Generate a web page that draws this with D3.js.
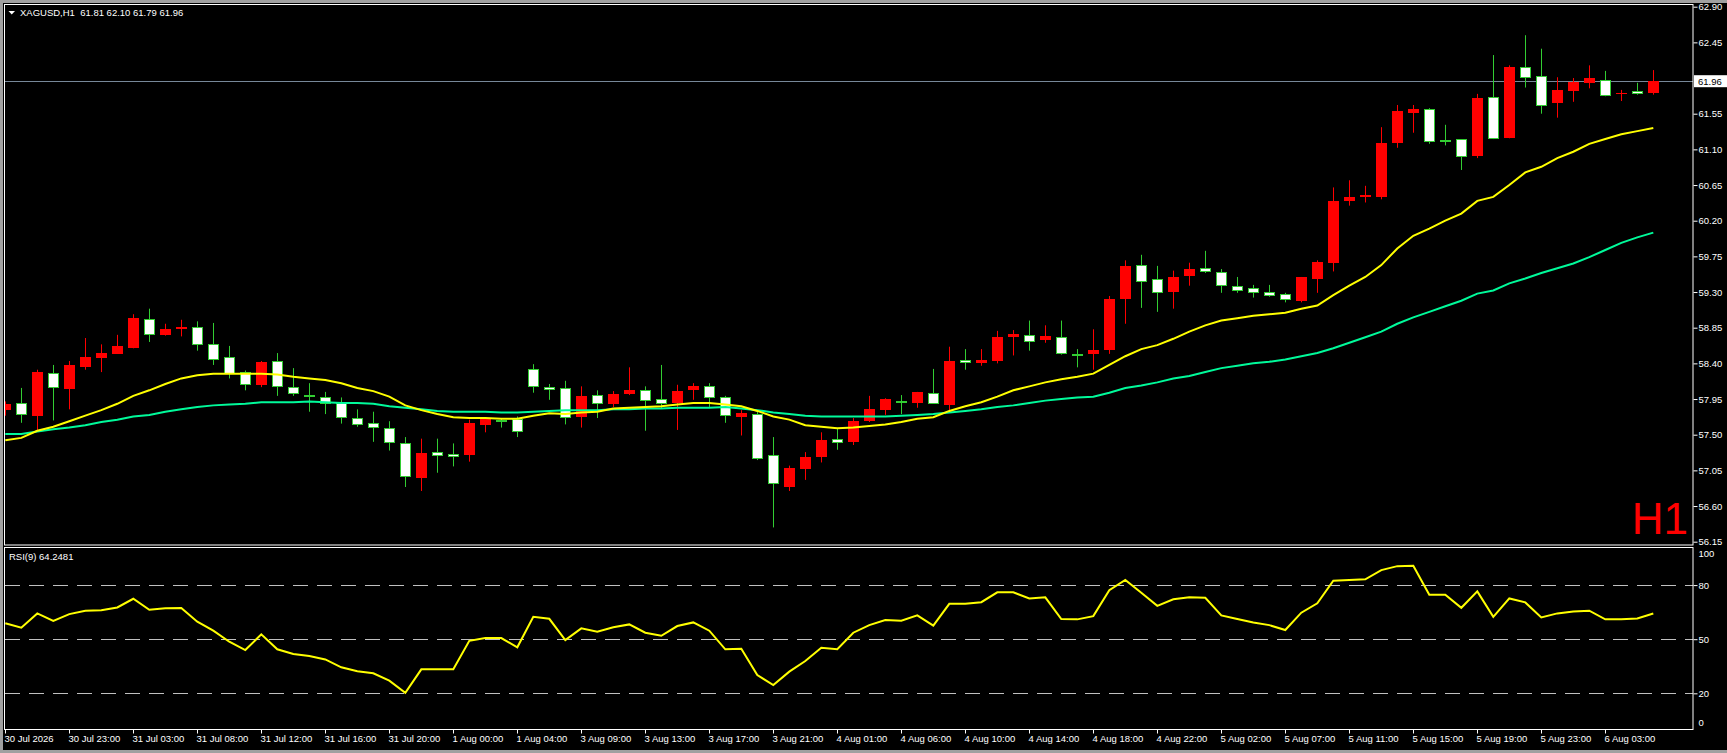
<!DOCTYPE html>
<html>
<head>
<meta charset="utf-8">
<script src="https://cdn.jsdelivr.net/npm/d3@7"></script>
<style>
body { margin: 0; background: #000; }
svg { display: block; }
</style>
</head>
<body>
<div class="chart"></div>
<script>
// bar-by-bar data (104 bars)
const timeLabels = ['30 Jul 2026', '30 Jul 23:00', '31 Jul 03:00', '31 Jul 08:00', '31 Jul 12:00', '31 Jul 16:00',
  '31 Jul 20:00', '1 Aug 00:00', '1 Aug 04:00', '3 Aug 09:00', '3 Aug 13:00', '3 Aug 17:00', '3 Aug 21:00',
  '4 Aug 01:00', '4 Aug 06:00', '4 Aug 10:00', '4 Aug 14:00', '4 Aug 18:00', '4 Aug 22:00', '5 Aug 02:00',
  '5 Aug 07:00', '5 Aug 11:00', '5 Aug 15:00', '5 Aug 19:00', '5 Aug 23:00', '6 Aug 03:00'];

const opens = [57.81, 57.90, 57.74, 58.28, 58.08, 58.36, 58.47, 58.52, 58.59, 58.96, 58.75, 58.84, 58.86, 58.65, 58.48, 58.29,
  58.13, 58.43, 58.10, 58.00, 57.98, 57.90, 57.71, 57.65, 57.58, 57.39, 56.96, 57.28, 57.26, 57.24, 57.62, 57.69,
  57.70, 58.33, 58.10, 58.09, 57.72, 58.00, 57.89, 58.02, 58.07, 57.95, 57.90, 58.06, 58.12, 57.97, 57.72, 57.76,
  57.24, 56.84, 57.07, 57.21, 57.44, 57.41, 57.68, 57.81, 57.93, 57.90, 58.02, 57.87, 58.44, 58.40, 58.43, 58.73,
  58.76, 58.70, 58.73, 58.52, 58.52, 58.57, 59.21, 59.64, 59.46, 59.30, 59.50, 59.60, 59.55, 59.38, 59.35, 59.30,
  59.27, 59.19, 59.47, 59.67, 60.45, 60.50, 60.50, 61.17, 61.56, 61.61, 61.22, 61.23, 61.02, 61.76, 61.25, 62.14,
  62.03, 61.68, 61.84, 61.94, 61.98, 61.80, 61.84, 61.81];
const highs = [57.92, 58.09, 58.32, 58.38, 58.43, 58.72, 58.64, 58.76, 59.02, 59.09, 58.90, 58.95, 58.93, 58.91, 58.62, 58.31,
  58.43, 58.53, 58.34, 58.15, 58.04, 57.97, 57.82, 57.79, 57.67, 57.47, 57.45, 57.45, 57.39, 57.69, 57.71, 57.70,
  57.73, 58.39, 58.14, 58.18, 58.11, 58.06, 58.05, 58.35, 58.11, 58.38, 58.13, 58.15, 58.15, 57.99, 57.81, 57.79,
  57.47, 57.11, 57.28, 57.53, 57.58, 57.71, 57.99, 57.96, 58.00, 58.04, 58.33, 58.61, 58.58, 58.58, 58.81, 58.82,
  58.94, 58.88, 58.94, 58.58, 58.83, 59.25, 59.70, 59.77, 59.63, 59.57, 59.67, 59.82, 59.59, 59.49, 59.39, 59.39,
  59.29, 59.49, 59.70, 60.62, 60.71, 60.64, 61.38, 61.66, 61.66, 61.62, 61.41, 61.23, 61.80, 62.29, 62.16, 62.54,
  62.37, 62.01, 62.00, 62.16, 62.09, 61.85, 61.94, 62.10];
const lows = [57.74, 57.65, 57.56, 57.68, 57.82, 58.32, 58.29, 58.52, 58.59, 58.67, 58.75, 58.74, 58.56, 58.38, 58.21, 58.06,
  58.10, 57.99, 57.99, 57.79, 57.76, 57.64, 57.60, 57.41, 57.30, 56.84, 56.79, 57.02, 57.10, 57.16, 57.53, 57.59,
  57.47, 58.03, 57.94, 57.63, 57.59, 57.71, 57.85, 58.00, 57.55, 57.83, 57.56, 57.94, 57.85, 57.65, 57.49, 57.18,
  56.33, 56.79, 56.93, 57.15, 57.31, 57.37, 57.66, 57.75, 57.76, 57.84, 57.90, 57.81, 58.32, 58.37, 58.40, 58.50,
  58.56, 58.66, 58.51, 58.35, 58.32, 58.52, 58.90, 59.10, 59.05, 59.09, 59.38, 59.54, 59.29, 59.29, 59.23, 59.24,
  59.17, 59.17, 59.29, 59.56, 60.39, 60.43, 60.47, 61.12, 61.31, 61.17, 61.15, 60.84, 60.99, 61.23, 61.24, 61.88,
  61.55, 61.50, 61.70, 61.87, 61.77, 61.71, 61.79, 61.79];
const closes = [57.89, 57.76, 58.29, 58.10, 58.38, 58.48, 58.53, 58.62, 58.97, 58.77, 58.83, 58.86, 58.64, 58.46, 58.28, 58.14,
  58.42, 58.11, 58.02, 57.99, 57.90, 57.72, 57.63, 57.60, 57.40, 56.97, 57.27, 57.24, 57.23, 57.65, 57.70, 57.685,
  57.55, 58.11, 58.07, 57.72, 57.99, 57.90, 58.01, 58.07, 57.95, 57.90, 58.05, 58.11, 57.98, 57.74, 57.77, 57.21,
  56.89, 57.08, 57.22, 57.43, 57.40, 57.67, 57.83, 57.95, 57.925, 58.04, 57.90, 58.43, 58.41, 58.44, 58.73, 58.77,
  58.69, 58.75, 58.53, 58.515, 58.57, 59.21, 59.63, 59.44, 59.30, 59.49, 59.59, 59.56, 59.38, 59.33, 59.30, 59.26,
  59.21, 59.49, 59.68, 60.45, 60.50, 60.53, 61.18, 61.58, 61.61, 61.21, 61.215, 61.02, 61.75, 61.24, 62.14, 62.02,
  61.67, 61.85, 61.95, 62.00, 61.79, 61.81, 61.81, 61.96];

// moving averages (yellow fast, green slow)
const maFast = [57.43, 57.46, 57.55, 57.60, 57.67, 57.74, 57.81, 57.89, 57.99, 58.06, 58.14, 58.21, 58.25, 58.27, 58.27, 58.27,
  58.27, 58.26, 58.23, 58.21, 58.19, 58.15, 58.09, 58.05, 57.98, 57.87, 57.81, 57.76, 57.72, 57.71, 57.71, 57.70,
  57.70, 57.74, 57.77, 57.76, 57.78, 57.79, 57.83, 57.84, 57.85, 57.86, 57.88, 57.90, 57.90, 57.88, 57.86, 57.80,
  57.73, 57.69, 57.62, 57.60, 57.58, 57.59, 57.61, 57.63, 57.66, 57.70, 57.72, 57.80, 57.86, 57.91, 57.98, 58.06,
  58.11, 58.16, 58.20, 58.23, 58.27, 58.38, 58.49, 58.58, 58.63, 58.71, 58.80, 58.88, 58.94, 58.97, 59.00, 59.02,
  59.04, 59.09, 59.13, 59.26, 59.38, 59.49, 59.64, 59.85, 60.01, 60.10, 60.20, 60.29, 60.45, 60.50, 60.65, 60.81,
  60.88, 60.99, 61.07, 61.17, 61.23, 61.29, 61.33, 61.37];
const maSlow = [57.51, 57.51, 57.54, 57.57, 57.59, 57.62, 57.66, 57.69, 57.73, 57.75, 57.79, 57.82, 57.85, 57.87, 57.88, 57.89,
  57.91, 57.91, 57.91, 57.92, 57.91, 57.90, 57.90, 57.89, 57.86, 57.84, 57.82, 57.80, 57.79, 57.79, 57.79, 57.78,
  57.78, 57.79, 57.80, 57.81, 57.81, 57.81, 57.82, 57.82, 57.83, 57.83, 57.84, 57.84, 57.84, 57.85, 57.83, 57.81,
  57.78, 57.76, 57.74, 57.73, 57.73, 57.73, 57.73, 57.73, 57.74, 57.75, 57.76, 57.78, 57.80, 57.82, 57.85, 57.87,
  57.90, 57.93, 57.95, 57.97, 57.98, 58.03, 58.09, 58.12, 58.16, 58.21, 58.24, 58.29, 58.34, 58.37, 58.40, 58.42,
  58.45, 58.49, 58.53, 58.59, 58.66, 58.73, 58.80, 58.90, 58.98, 59.05, 59.12, 59.19, 59.28, 59.32, 59.41, 59.47,
  59.54, 59.60, 59.66, 59.74, 59.83, 59.92, 59.99, 60.05];

const rsi = [58.8, 56.4, 64.3, 60.2, 63.9, 65.8, 66.0, 67.6, 72.4, 66.3, 67.1, 67.3, 59.7, 54.7, 48.6, 44.0,
  52.7, 44.4, 41.8, 40.7, 38.8, 34.4, 32.2, 31.1, 27.0, 20.3, 33.3, 33.3, 33.3, 49.1, 50.6, 50.6,
  45.5, 62.4, 61.3, 49.5, 56.0, 54.1, 56.6, 58.2, 53.6, 51.9, 57.3, 59.3, 54.7, 44.4, 44.7, 30.1,
  24.6, 32.0, 37.9, 45.3, 44.5, 53.6, 57.8, 60.6, 60.2, 63.2, 57.5, 69.6, 69.6, 70.5, 76.0, 76.0,
  72.6, 73.2, 61.2, 61.0, 62.8, 77.2, 82.8, 75.7, 68.5, 72.1, 73.2, 73.0, 63.2, 61.2, 59.3, 57.8,
  55.1, 64.7, 69.9, 82.4, 82.8, 83.2, 88.3, 90.5, 90.7, 74.6, 74.6, 67.4, 76.5, 62.4, 72.6, 70.4,
  62.1, 64.3, 65.4, 65.8, 61.0, 61.0, 61.5, 64.2481];

const priceTicks = [62.90, 62.45, 61.55, 61.10, 60.65, 60.20, 59.75, 59.30, 58.85, 58.40, 57.95, 57.50, 57.05, 56.60, 56.15];
const rsiLevels = [80, 50, 20];
const rsiLabels = [100, 80, 50, 20, 0];

const w = 1727;
const h = 753;
const axisX = 1693;
const mainBottom = 545;
const rsiTop = 547;
const rsiBottom = 729;
const font = 'Liberation Sans, Arial, sans-serif';

const xScale = d3.scaleLinear()
                 .domain([0, opens.length - 1])
                 .range([5.3, 5.3 + 16 * (opens.length - 1)]);
const yScale = d3.scaleLinear()
                 .domain([56.15, 62.90])
                 .range([541.7, 6.7]);
const rsiScale = d3.scaleLinear()
                   .domain([0, 100])
                   .range([729.4, 549]);

const svg = d3.select('div.chart')
              .append('svg')
              .attr('width', w)
              .attr('height', h)
              .style('font-family', font);

// window frame
svg.append('rect').attr('width', w).attr('height', h).attr('fill', '#a0a0a0');
svg.append('rect').attr('x', 3).attr('y', 3).attr('width', w - 3).attr('height', h - 6).attr('fill', '#000');

const defs = svg.append('defs');
defs.append('clipPath').attr('id', 'clipMain')
    .append('rect').attr('x', 5).attr('y', 5).attr('width', axisX - 5).attr('height', mainBottom - 5);
defs.append('clipPath').attr('id', 'clipRsi')
    .append('rect').attr('x', 5).attr('y', rsiTop + 1).attr('width', axisX - 5).attr('height', rsiBottom - rsiTop - 1);

// current price line
const last = closes[closes.length - 1];
svg.append('line')
   .attr('x1', 5).attr('x2', axisX)
   .attr('y1', Math.round(yScale(last)) + 0.5).attr('y2', Math.round(yScale(last)) + 0.5)
   .attr('stroke', '#778899');

const main = svg.append('g').attr('clip-path', 'url(#clipMain)');

const bars = opens.map((o, i) => ({i: i, o: o, h: highs[i], l: lows[i], c: closes[i], up: closes[i] > o}));

main.selectAll('line.wick')
    .data(bars)
    .enter()
    .append('line')
    .attr('class', 'wick')
    .attr('x1', (d) => Math.floor(xScale(d.i)) + 0.5)
    .attr('x2', (d) => Math.floor(xScale(d.i)) + 0.5)
    .attr('y1', (d) => yScale(d.h))
    .attr('y2', (d) => yScale(d.l))
    .attr('stroke', (d) => d.up ? '#ff0000' : '#32cd32');

main.selectAll('rect.body')
    .data(bars)
    .enter()
    .append('rect')
    .attr('class', 'body')
    .attr('x', (d) => Math.floor(xScale(d.i)) - 5 + (d.up ? 0 : 0.5))
    .attr('width', (d) => d.up ? 11 : 10)
    .attr('y', (d) => Math.round(yScale(Math.max(d.o, d.c))) + (d.up ? 0 : 0.5))
    .attr('height', (d) => Math.max(1, Math.round(Math.abs(yScale(d.o) - yScale(d.c)))))
    .attr('fill', (d) => d.up ? '#ff0000' : '#ffffff')
    .attr('stroke', (d) => d.up ? 'none' : '#32cd32');

const maLine = (arr) => d3.line().x((d, i) => xScale(i)).y((d) => yScale(d))(arr);
main.append('path').attr('d', maLine(maSlow)).attr('fill', 'none').attr('stroke', '#00fa9a').attr('stroke-width', 2);
main.append('path').attr('d', maLine(maFast)).attr('fill', 'none').attr('stroke', '#ffff00').attr('stroke-width', 2);

// RSI panel
const sub = svg.append('g').attr('clip-path', 'url(#clipRsi)');
sub.selectAll('line.level')
   .data(rsiLevels)
   .enter()
   .append('line')
   .attr('class', 'level')
   .attr('x1', 5).attr('x2', axisX)
   .attr('y1', (d) => Math.round(rsiScale(d)) + 0.5)
   .attr('y2', (d) => Math.round(rsiScale(d)) + 0.5)
   .attr('stroke', '#c0c0c0')
   .attr('stroke-dasharray', '15,9');
sub.append('path')
   .attr('d', d3.line().x((d, i) => xScale(i)).y((d) => rsiScale(d))(rsi))
   .attr('fill', 'none').attr('stroke', '#ffff00').attr('stroke-width', 2);

// panel borders
const border = svg.append('g').attr('stroke', '#ffffff').attr('fill', 'none');
border.append('rect').attr('x', 4.5).attr('y', 4.5).attr('width', axisX - 4.5).attr('height', mainBottom - 4.5);
border.append('rect').attr('x', 4.5).attr('y', rsiTop + 0.5).attr('width', axisX - 4.5).attr('height', rsiBottom - rsiTop);

// price axis
const yAxis = d3.axisRight(yScale).tickValues(priceTicks).tickSize(4).tickPadding(1).tickFormat(d3.format('.2f'));
const ya = svg.append('g').attr('transform', 'translate(' + (axisX + 0.5) + ',0)').call(yAxis);

// rsi axis
const rAxis = d3.axisRight(rsiScale).tickValues(rsiLabels).tickSize(4).tickPadding(1).tickFormat(d3.format('d'));
const ra = svg.append('g').attr('transform', 'translate(' + (axisX + 0.5) + ',0)').call(rAxis);
ra.selectAll('.tick').filter((d) => d === 100 || d === 0).select('line').remove();
ra.selectAll('.tick').filter((d) => d === 100).attr('transform', 'translate(0,554)');
ra.selectAll('.tick').filter((d) => d === 0).attr('transform', 'translate(0,723)');

// time axis
const xAxis = d3.axisBottom(xScale)
                .tickValues(d3.range(0, opens.length, 4))
                .tickSize(4)
                .tickPadding(2)
                .tickFormat((d, i) => timeLabels[i]);
const xa = svg.append('g').attr('transform', 'translate(0.5,' + (rsiBottom + 0.5) + ')').call(xAxis);
xa.selectAll('.tick').attr('transform', (d) => 'translate(' + Math.floor(xScale(d)) + ',0)');
xa.selectAll('text').attr('text-anchor', 'start').attr('x', -1);

[ya, ra, xa].forEach((g) => {
  g.select('.domain').remove();
  g.selectAll('line').attr('stroke', '#ffffff');
  g.selectAll('text').attr('fill', '#ffffff').style('font-size', '9.5px').style('font-family', font);
});

// current price label
const ly = yScale(last);
svg.append('rect').attr('x', axisX + 1).attr('y', ly - 6).attr('width', w - axisX - 1).attr('height', 12).attr('fill', '#ffffff');
svg.append('text').attr('x', axisX + 5).attr('y', ly + 3.5).attr('fill', '#000000')
   .style('font-size', '9.5px').text(last.toFixed(2));

// titles
svg.append('path').attr('d', 'M8.5,11 L15,11 L11.75,14.5 Z').attr('fill', '#ffffff');
svg.append('text').attr('x', 20).attr('y', 16).attr('fill', '#ffffff').style('font-size', '9.5px')
   .attr('xml:space', 'preserve')
   .text('XAGUSD,H1  ' + [opens, highs, lows, closes].map((a) => a[a.length - 1].toFixed(2)).join(' '));
svg.append('text').attr('x', 9).attr('y', 560).attr('fill', '#ffffff').style('font-size', '9.5px')
   .text('RSI(9) ' + rsi[rsi.length - 1].toFixed(4));
svg.append('text').attr('x', 1688).attr('y', 533.5).attr('text-anchor', 'end').attr('fill', '#ff0000')
   .style('font-size', '44px').text('H1');
</script>
</body>
</html>
